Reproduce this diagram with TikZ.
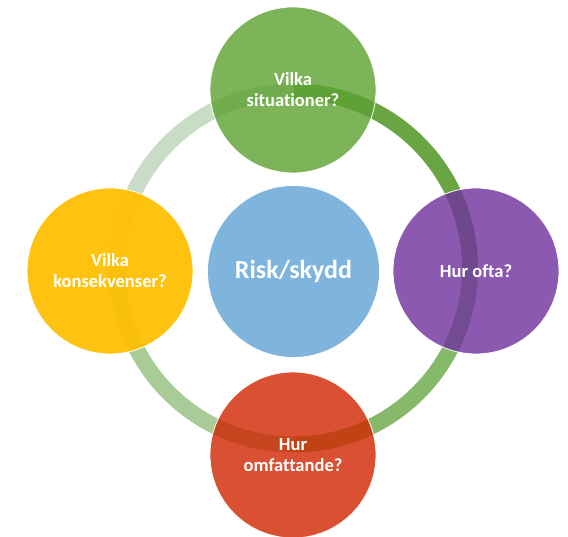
\documentclass[tikz,border=0pt]{standalone}
\usepackage{fontspec}
\setmainfont[Ligatures=NoCommon]{Carlito}
\begin{document}
\begin{tikzpicture}[x=1pt,y=1pt,
  bubble/.style={circle, minimum size=166pt, inner sep=0pt, draw=white,
    line width=0.8pt, text=white, align=center,
    font=\bfseries\fontsize{18.5}{21}\selectfont},
  ringarc/.style={line width=16pt},
]
\definecolor{ringTR}{RGB}{106,165,68}
\definecolor{ringBR}{RGB}{134,186,106}
\definecolor{ringBL}{RGB}{168,203,151}
\definecolor{ringTL}{RGB}{201,220,197}
\definecolor{cgreen}{RGB}{92,161,49}
\definecolor{cpurple}{RGB}{111,48,158}
\definecolor{cred}{RGB}{207,36,0}
\definecolor{cyellow}{RGB}{254,192,4}
\definecolor{cblue}{RGB}{127,180,221}

\useasboundingbox (0,0) rectangle (568,537);

% ring behind the bubbles, one colour per quarter
\coordinate (hub) at (293.5,269);
\draw[ringarc, ringTR] (hub) ++(90:176.5) arc[start angle=90, end angle=0, radius=176.5];
\draw[ringarc, ringBR] (hub) ++(0:176.5) arc[start angle=0, end angle=-90, radius=176.5];
\draw[ringarc, ringBL] (hub) ++(-90:176.5) arc[start angle=-90, end angle=-180, radius=176.5];
\draw[ringarc, ringTL] (hub) ++(180:176.5) arc[start angle=180, end angle=90, radius=176.5];

% centre bubble
\node[bubble, minimum size=172pt, fill=cblue,
  font=\bfseries\fontsize{26}{30}\selectfont] (risk) at (293.5,265.5) {Risk/skydd};

% outer bubbles, semi-transparent over the ring
\node[bubble, fill=cgreen, fill opacity=0.8, text opacity=1, draw opacity=1]
  (sit) at (293,447) {Vilka\\situationer?};
\node[bubble, fill=cpurple, fill opacity=0.8, text opacity=1, draw opacity=1]
  (oft) at (476,266) {Hur ofta?};
\node[bubble, fill=cred, fill opacity=0.8, text opacity=1, draw opacity=1]
  (omf) at (293,82) {Hur\\omfattande?};
\node[bubble, fill=cyellow, fill opacity=0.95, text opacity=1, draw opacity=1]
  (kon) at (110,266) {Vilka\\konsekvenser?};
\end{tikzpicture}
\end{document}
